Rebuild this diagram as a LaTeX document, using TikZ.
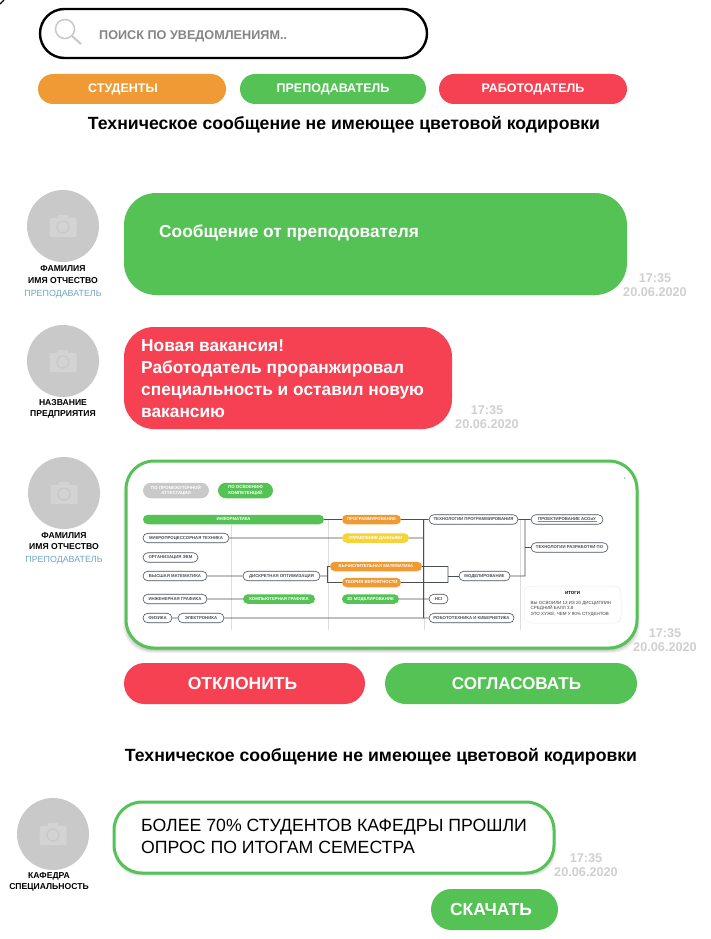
\documentclass[tikz,border=0pt]{standalone}
\usepackage{fontspec}
\setmainfont{Liberation Sans}
\usetikzlibrary{shapes.misc}
\definecolor{cOr}{HTML}{EF9A34}
\definecolor{cGr}{HTML}{54C255}
\definecolor{cRd}{HTML}{F64152}
\definecolor{cYe}{HTML}{F5D33B}
\definecolor{cAv}{HTML}{C9C9C9}
\definecolor{cCam}{HTML}{D3D3D3}
\definecolor{cTm}{HTML}{D0D0D0}
\definecolor{cRole}{HTML}{6FA5C8}
\definecolor{cDk}{HTML}{4A4F57}
\definecolor{cLn}{HTML}{DDDDDD}
\definecolor{cLk}{HTML}{3F9BE0}
\tikzset{
  x=1pt,y=-1pt,
  lab/.style={inner sep=0pt,align=center},
  pillb/.style={rounded rectangle,inner sep=0pt,minimum width=#1},
  toppill/.style={pillb=#1,minimum height=30pt,text=white,font=\bfseries\fontsize{12.5}{14}\selectfont},
  btn/.style={pillb=#1,minimum height=41pt,text=white,font=\bfseries\fontsize{17.5}{20}\selectfont},
  heading/.style={lab,font=\bfseries\fontsize{17.65}{20}\selectfont},
  avatar/.style={circle,fill=cAv,minimum size=72pt,inner sep=0pt},
  person/.style={lab,font=\bfseries\fontsize{8.6}{11.5}\selectfont},
  role/.style={lab,text=cRole,font=\fontsize{8.9}{11}\selectfont},
  stamp/.style={lab,text=cTm,font=\bfseries\fontsize{12.7}{14}\selectfont},
  msg/.style={lab,align=left,anchor=west,text=white,font=\bfseries\fontsize{17.3}{22}\selectfont},
  tag/.style={pillb=#1,minimum height=9.5pt,font=\bfseries\fontsize{4.3}{5}\selectfont},
  wtag/.style={tag=#1,draw=cDk,line width=.6pt,fill=white,text=cDk},
  gtag/.style={tag=#1,fill=cGr,text=white},
  otag/.style={tag=#1,fill=cOr,text=white},
  ytag/.style={tag=#1,fill=cYe,text=white},
  legend/.style={pillb=#1,minimum height=15.5pt,text=white,align=center,font=\bfseries\fontsize{4.4}{5.6}\selectfont},
  link/.style={draw=cDk,line width=.7pt},
  guide/.style={draw=cLn,line width=.6pt},
  cam/.pic={
    \fill[cCam,rounded corners=1pt] (-13.5,-8) rectangle (13.5,11);
    \fill[cCam] (-5,-11) rectangle (5,-7);
    \draw[cAv,line width=1.4pt] (0,1) circle (6);
  }
}
\begin{document}
\begin{tikzpicture}
\useasboundingbox (0,0) rectangle (711,939);
\fill[white] (0,0) rectangle (711,939);
\draw[black,line width=1.4pt] (0,4) -- (4,0);

% search bar
\node (search) [rounded rectangle,draw=black,line width=2.4pt,fill=white,minimum width=387pt,minimum height=49pt,inner sep=0pt] at (233.5,33.5) {};
\node (searchtxt) [lab,anchor=west,text=black!48,font=\bfseries\fontsize{12.65}{14}\selectfont] at (99,36.5) {ПОИСК ПО УВЕДОМЛЕНИЯМ..};
\draw[cAv,line width=1.5pt] (65,29) circle (9.5);
\draw[cAv,line width=2pt] (72,36) -- (81,44);

% filter pills
\node (f1) [toppill=188pt,fill=cOr] at (132,89) {\hspace*{-18pt}СТУДЕНТЫ};
\node (f2) [toppill=186pt,fill=cGr] at (333,89) {ПРЕПОДАВАТЕЛЬ};
\node (f3) [toppill=188pt,fill=cRd] at (533,89) {РАБОТОДАТЕЛЬ};
\node (h1) [heading] at (344,124.5) {Техническое сообщение не имеющее цветовой кодировки};

% message 1
\node (a1) [avatar] at (63,226) {};
\pic at (a1) {cam};
\node (p1a) [person] at (63,269) {ФАМИЛИЯ};
\node (p1b) [person] at (63,281) {ИМЯ ОТЧЕСТВО};
\node (r1) [role] at (63,294) {ПРЕПОДАВАТЕЛЬ};
\fill[cGr,rounded corners=32pt] (124,193) rectangle (627,295);
\node (m1) [msg] at (159,232.5) {Сообщение от преподователя};
\node (t1) [stamp] at (655,285.5) {17:35\\20.06.2020};

% message 2
\node (a2) [avatar] at (63,361) {};
\pic at (a2) {cam};
\node (p2) [person] at (63,409) {НАЗВАНИЕ\\ПРЕДПРИЯТИЯ};
\fill[cRd,rounded corners=30pt] (124,327) rectangle (452,429);
\node (m2) [msg] at (141,379) {Новая вакансия!\\Работодатель проранжировал\\специальность и оставил новую\\вакансию};
\node (t2) [stamp] at (487,417) {17:35\\20.06.2020};

% message 3
\node (a3) [avatar] at (64,493) {};
\pic at (a3) {cam};
\node (p3) [person] at (64,541) {ФАМИЛИЯ\\ИМЯ ОТЧЕСТВО};
\node (r3) [role] at (64,560.5) {ПРЕПОДАВАТЕЛЬ};
\foreach \d/\o in {5/.05,4/.06,3/.07,2/.08}
  \fill[black,opacity=\o,rounded corners=28pt] (126-\d+2,461+\d) rectangle (637+\d-2,648+\d);
\draw[cGr,line width=3pt,fill=white,rounded corners=28pt] (126,461) rectangle (637,648);
\node (t3) [stamp] at (665,640) {17:35\\20.06.2020};

% embedded chart
\node (c1) [legend=66pt,fill=cAv] at (176,490.5) {ПО ПРОМЕЖУТОЧНОЙ\\АТТЕСТАЦИИ};
\node (c2) [legend=55pt,fill=cGr] at (245.5,490.5) {ПО ОСВОЕНИЮ\\КОМПЕТЕНЦИЙ};
\node (dot) [circle,fill=cRole,minimum size=1.5pt,inner sep=0pt] at (624.5,478) {};

\draw[guide] (231,525) -- (231,630);
\draw[guide] (328,520) -- (328,630);
\draw[guide] (424,520) -- (424,630);
\draw[guide] (520,520) -- (520,630);

\coordinate (bus) at (423,519.5);
\coordinate (busb) at (423,618);
\coordinate (busc) at (423,538);
\coordinate (fork1) at (327,566.5);
\coordinate (fork2) at (327,582.5);
\coordinate (fork3) at (448,566.5);
\coordinate (fork4) at (448,582.5);
\coordinate (fork5) at (525,519.5);
\coordinate (fork6) at (525,547.5);
\coordinate (fork7) at (525,576);
\coordinate (fork8) at (327,576);
\coordinate (fork9) at (448,576);

\node (n1)  [gtag=181pt] at (233.5,519.5) {ИНФОРМАТИКА};
\node (n2)  [wtag=86pt]  at (186,538) {МИКРОПРОЦЕССОРНАЯ ТЕХНИКА};
\node (n3)  [wtag=55pt]  at (170.5,557.5) {ОРГАНИЗАЦИЯ ЭВМ};
\node (n4)  [wtag=64pt]  at (175,576) {ВЫСШАЯ МАТЕМАТИКА};
\node (n5)  [wtag=77pt]  at (281.5,576) {ДИСКРЕТНАЯ ОПТИМИЗАЦИЯ};
\node (n6)  [wtag=64pt]  at (175,599) {ИНЖЕНЕРНАЯ ГРАФИКА};
\node (n7)  [gtag=72pt]  at (279,599) {КОМПЬЮТЕРНАЯ ГРАФИКА};
\node (n8)  [wtag=29pt]  at (157.5,618) {ФИЗИКА};
\node (n9)  [wtag=46pt]  at (201,618) {ЭЛЕКТРОНИКА};
\node (n10) [otag=59pt]  at (371.5,519.5) {ПРОГРАММИРОВАНИЕ};
\node (n11) [ytag=67pt]  at (375.5,538) {УПРАВЛЕНИЕ ДАННЫМИ};
\node (n12) [otag=92pt]  at (376,566.5) {ВЫЧИСЛИТЕЛЬНАЯ МАТЕМАТИКА};
\node (n13) [otag=59pt]  at (371.5,582.5) {ТЕОРИЯ ВЕРОЯТНОСТИ};
\node (n14) [gtag=57pt]  at (370.5,599) {3D МОДЕЛИРОВАНИЕ};
\node (n15) [wtag=89pt]  at (473.5,519.5) {ТЕХНОЛОГИИ ПРОГРАММИРОВАНИЯ};
\node (n16) [wtag=72pt]  at (567,519.5) {ПРОЕКТИРОВАНИЕ АСОиУ};
\node (n17) [wtag=77pt]  at (569.5,547.5) {ТЕХНОЛОГИИ РАЗРАБОТКИ ПО};
\node (n18) [wtag=51pt]  at (484.5,576) {МОДЕЛИРОВАНИЕ};
\node (n19) [wtag=19pt]  at (438.5,599) {НСI};
\node (n20) [wtag=85pt]  at (471.5,618) {РОБОТОТЕХНИКА И КИБЕРНЕТИКА};
\draw[cLk,line width=.7pt] ([xshift=-29.5pt,yshift=-2.2pt]n16.center) -- ([xshift=29.5pt,yshift=-2.2pt]n16.center);
\node (tot) [draw=black!8,line width=.5pt,fill=white,rounded corners=7pt,minimum width=97pt,minimum height=37pt,inner sep=0pt] at (572.5,604.5) {};
\node (tot1) [lab,font=\bfseries\fontsize{4.4}{5}\selectfont] at (572.5,592.5) {ИТОГИ};
\node (tot2) [lab,align=left,anchor=west,text=black!75,font=\fontsize{4.5}{5.4}\selectfont] at (530.5,608.5) {ВЫ ОСВОИЛИ 13 ИЗ 20 ДИСЦИПЛИН\\СРЕДНИЙ БАЛЛ 3.8\\ЭТО ХУЖЕ, ЧЕМ У 90\% СТУДЕНТОВ};

\draw[link] (n1) -- (n10);
\draw[link] (n2) -- (n11);
\draw[link] (n4) -- (n5);
\draw[link] (n6) -- (n7);
\draw[link] (n8) -- (n9);
\draw[link] (n9) -- (n20);
\draw[link] (n10) -- (n15);
\draw[link] (n11) -- (busc);
\draw[link] (n14) -- (n19);
\draw[link] (n15) -- (n16);
\draw[link] (bus) -- (busb);
\draw[link] (n5) -- (fork8);
\draw[link] (n12) -- (fork1) -- (fork2) -- (n13);
\draw[link] (n12) -- (fork3) -- (fork4) -- (n13);
\draw[link] (fork9) -- (n18);
\draw[link] (n18) -- (fork7) -- (fork5);
\draw[link] (fork6) -- (n17);

% buttons
\node (b1) [btn=241pt,fill=cRd] at (244.5,683.5) {\hspace*{-4pt}ОТКЛОНИТЬ};
\node (b2) [btn=252pt,fill=cGr,font=\bfseries\fontsize{17.1}{20}\selectfont] at (511,683.5) {\hspace*{11pt}СОГЛАСОВАТЬ};
\node (h2) [heading] at (381,756.5) {Техническое сообщение не имеющее цветовой кодировки};

% message 4
\node (a4) [avatar] at (53,834) {};
\pic at (a4) {cam};
\node (p4) [person] at (49,882) {КАФЕДРА\\СПЕЦИАЛЬНОСТЬ};
\foreach \d/\o in {3/.06,2/.08}
  \fill[black,opacity=\o,rounded corners=26pt] (114,802+\d) rectangle (554+\d-1,873+\d);
\draw[cGr,line width=3pt,fill=white,rounded corners=28pt] (114,802) rectangle (554,873);
\node (m4) [msg,text=black,font=\fontsize{17.7}{22}\selectfont] at (141,836) {БОЛЕЕ 70\% СТУДЕНТОВ КАФЕДРЫ ПРОШЛИ\\ОПРОС ПО ИТОГАМ СЕМЕСТРА};
\node (t4) [stamp] at (586,865) {17:35\\20.06.2020};
\node (b3) [btn=127pt,fill=cGr] at (494.5,909.5) {\hspace*{-7pt}СКАЧАТЬ};
\end{tikzpicture}
\end{document}
